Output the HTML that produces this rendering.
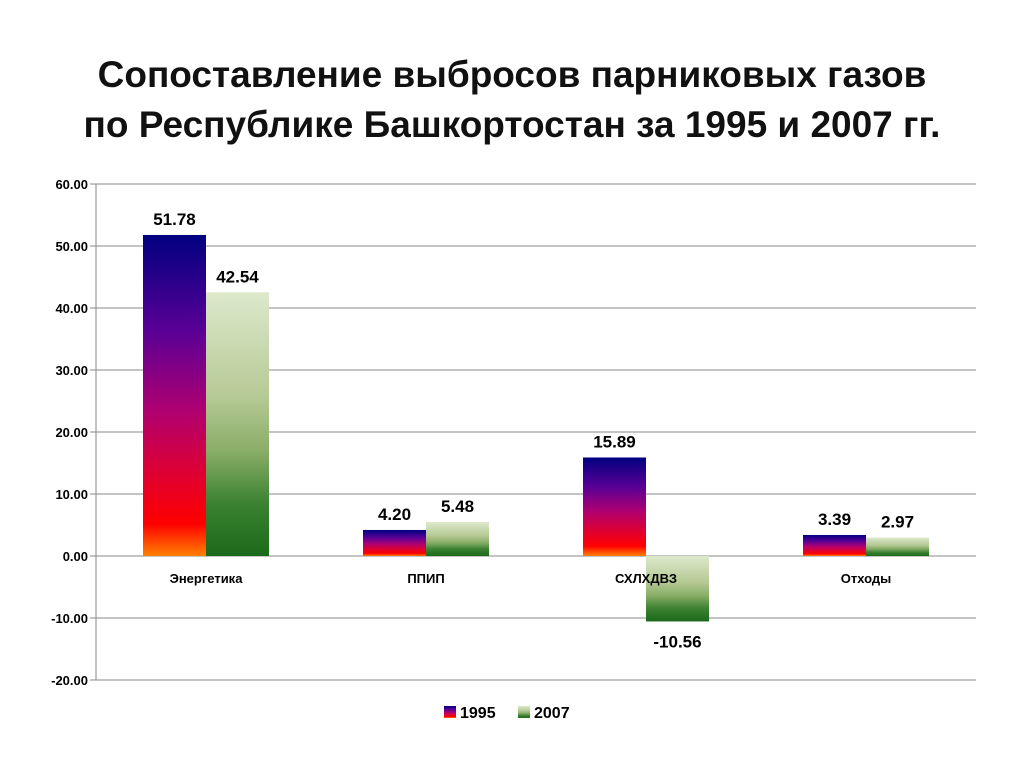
<!DOCTYPE html>
<html><head><meta charset="utf-8"><style>
body{margin:0;background:#fff;width:1024px;height:768px;overflow:hidden;font-family:"Liberation Sans",sans-serif}
</style></head><body>
<svg width="1024" height="768" xmlns="http://www.w3.org/2000/svg">
<defs>
<linearGradient id="g95" x1="0" y1="0" x2="0" y2="1">
<stop offset="0" stop-color="#000080"/><stop offset="0.3" stop-color="#5a0096"/><stop offset="0.55" stop-color="#b00070"/><stop offset="0.75" stop-color="#e00030"/><stop offset="0.9" stop-color="#ff0000"/><stop offset="1" stop-color="#ff8000"/>
</linearGradient>
<linearGradient id="g07" x1="0" y1="0" x2="0" y2="1">
<stop offset="0" stop-color="#dde9cc"/><stop offset="0.4" stop-color="#b5c994"/><stop offset="0.6" stop-color="#8aae68"/><stop offset="0.8" stop-color="#3c8232"/><stop offset="1" stop-color="#1a6a1a"/>
</linearGradient>
</defs>
<text x="512" y="87" text-anchor="middle" font-size="37" font-weight="bold" fill="#111">Сопоставление выбросов парниковых газов</text>
<text x="512" y="137" text-anchor="middle" font-size="37" font-weight="bold" fill="#111">по Республике Башкортостан за 1995 и 2007 гг.</text>
<g id="grid"></g><g id="bars"></g><g id="labels"></g>
<g>
<rect x="444" y="706" width="12" height="12" fill="url(#g95)"/>
<text x="460" y="718" font-size="16" font-weight="bold">1995</text>
<rect x="518" y="706" width="12" height="12" fill="url(#g07)"/>
<text x="534" y="718" font-size="16" font-weight="bold">2007</text>
</g>
</svg>
<script>
const categories=["Энергетика","ППИП","СХЛХДВЗ","Отходы"];
const values1995=[51.78,4.20,15.89,3.39];
const values2007=[42.54,5.48,-10.56,2.97];
const ticks=[60,50,40,30,20,10,0,-10,-20];
const NS="http://www.w3.org/2000/svg";
const X0=96,X1=976,YT=184,YB=680,VMAX=60,VMIN=-20;
function y(v){return YT+(VMAX-v)/(VMAX-VMIN)*(YB-YT);}
function mk(t,a,p,txt){const e=document.createElementNS(NS,t);for(const k in a)e.setAttribute(k,a[k]);if(txt!==undefined)e.textContent=txt;p.appendChild(e);return e;}
const grid=document.getElementById('grid'),bars=document.getElementById('bars'),labels=document.getElementById('labels');
ticks.forEach(t=>{
 const l=mk('line',{x1:X0-6,x2:X1,y1:y(t),y2:y(t),stroke:'#888','stroke-width':1},grid);
 
 
 const tx=mk('text',{x:X0-8,y:y(t)+5,'text-anchor':'end','font-size':13,'font-weight':'bold'},grid,t.toFixed(2));
 
 
});
const ax=mk('line',{x1:X0,x2:X0,y1:YT,y2:YB,stroke:'#888'},grid);


const cw=(X1-X0)/categories.length,bw=63;
categories.forEach((c,i)=>{
 const cx=X0+cw*(i+0.5);
 const ct=mk('text',{x:cx,y:583,'text-anchor':'middle','font-size':13,'font-weight':'bold'},labels,c);
 
 
 [[values1995[i],cx-bw,'url(#g95)','bar-1995'],[values2007[i],cx,'url(#g07)','bar-2007']].forEach(([v,bx,f,n])=>{
  const top=Math.min(y(v),y(0)),h=Math.abs(y(v)-y(0));
  const r=mk('rect',{x:bx,y:top,width:bw,height:h,fill:f},bars);
  
  
  const ly=v>=0?y(v)-10:y(v)+26;
  const lt=mk('text',{x:bx+bw/2,y:ly,'text-anchor':'middle','font-size':17,'font-weight':'bold'},labels,v.toFixed(2));
  
  
 });
});
</script>
</body></html>
